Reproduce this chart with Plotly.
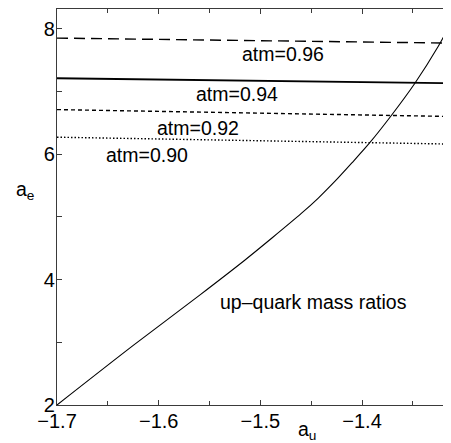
import plotly.graph_objects as go

# curve: up-quark mass ratios
curve_x = [-1.7, -1.625, -1.559, -1.516, -1.488, -1.46, -1.443, -1.427, -1.41, -1.393, -1.371, -1.348, -1.325, -1.3155]
curve_y = [2.0, 2.95, 3.76, 4.30, 4.67, 5.05, 5.30, 5.56, 5.86, 6.17, 6.62, 7.13, 7.72, 8.0]

# atm contour lines (left end, right end)
line_x = [-1.7, -1.3125]
atm96_y = [7.85, 7.77]
atm94_y = [7.21, 7.13]
atm92_y = [6.71, 6.60]
atm90_y = [6.27, 6.16]

labels = ["atm=0.96", "atm=0.94", "atm=0.92", "atm=0.90", "up\u2013quark mass ratios"]
label_x = [-1.478, -1.5225, -1.5615, -1.611, -1.448]
label_y = [7.59, 6.96, 6.41, 5.98, 3.64]

x_range = [-1.7, -1.3125]
y_range = [2, 8.314]
x_ticks = [-1.7, -1.6, -1.5, -1.4]
x_ticktext = ["\u22121.7", "\u22121.6", "\u22121.5", "\u22121.4"]
y_ticks = [2, 4, 6, 8]

FONT = "Liberation Sans, Arial, Helvetica, sans-serif"
AX = "#3a3a3a"

# page body has an 8px margin; figure is sized/offset to compensate
OFF = 8
W, H = 451 - OFF, 443 - OFF
ML, MT, MB, MR = 57 - OFF, 9 - OFF, 38, 0
PW, PH = W - ML - MR, H - MT - MB

fig = go.Figure()
fig.add_trace(go.Scatter(x=line_x, y=atm96_y, mode="lines",
                         line=dict(color="black", width=1.4, dash="11px,6px")))
fig.add_trace(go.Scatter(x=line_x, y=atm94_y, mode="lines",
                         line=dict(color="black", width=1.8)))
fig.add_trace(go.Scatter(x=line_x, y=atm92_y, mode="lines",
                         line=dict(color="black", width=1.4, dash="4px,3px")))
fig.add_trace(go.Scatter(x=line_x, y=atm90_y, mode="lines",
                         line=dict(color="black", width=1.4, dash="1.5px,2px")))
fig.add_trace(go.Scatter(x=curve_x, y=curve_y, mode="lines",
                         line=dict(color="black", width=1.1, shape="spline", smoothing=0.8)))
# invisible trace for mirror axes
fig.add_trace(go.Scatter(x=[-1.6], y=[5], xaxis="x2", yaxis="y2", mode="markers",
                         marker=dict(opacity=0), hoverinfo="skip"))

for t, x, y in zip(labels, label_x, label_y):
    fig.add_annotation(x=x, y=y, text=t, showarrow=False,
                       font=dict(family=FONT, size=19.5, color="black"))

# axis titles placed by target page pixel position
fig.add_annotation(xref="paper", yref="paper", x=(307 - 57) / PW, y=(405 - 430) / PH,
                   text="a<sub>u</sub>", showarrow=False, yanchor="middle",
                   font=dict(family=FONT, size=19.5, color="black"))
fig.add_annotation(xref="paper", yref="paper", x=(14 - 57) / PW, y=(405 - 190) / PH,
                   text="a<sub>e</sub>", showarrow=False, yanchor="middle",
                   font=dict(family=FONT, size=19.5, color="black"))

common = dict(ticks="inside", ticklen=5, tickcolor=AX, tickwidth=1, showgrid=False,
              zeroline=False, automargin=False)
TF = dict(family=FONT, size=20, color="black")

fig.update_layout(
    width=W, height=H,
    margin=dict(l=ML, r=MR, t=MT, b=MB, autoexpand=False),
    plot_bgcolor="white", paper_bgcolor="white",
    showlegend=False,
    font=dict(family=FONT, size=19, color="black"),
    xaxis=dict(range=x_range, tickvals=x_ticks, ticktext=x_ticktext, tickfont=TF,
               showline=True, linecolor=AX, linewidth=1.2,
               minor=dict(dtick=0.05, ticks="inside", ticklen=4, tickcolor=AX),
               ticklabelstandoff=-2, **common),
    yaxis=dict(range=y_range, tickvals=y_ticks, tickfont=TF,
               showline=True, linecolor=AX, linewidth=1.2,
               minor=dict(dtick=1, ticks="inside", ticklen=5, tickcolor=AX),
               ticklabelstandoff=-3, **common),
    xaxis2=dict(range=x_range, overlaying="x", side="top", tickvals=x_ticks,
                showticklabels=False, showline=True, linecolor=AX, linewidth=1.2,
                minor=dict(dtick=0.05, ticks="inside", ticklen=4, tickcolor=AX), **common),
    yaxis2=dict(range=y_range, overlaying="y", side="right", tickvals=y_ticks,
                showticklabels=False, showline=False,
                minor=dict(dtick=1, ticks="inside", ticklen=5, tickcolor=AX), **common),
)

fig.write_html("out.html")
